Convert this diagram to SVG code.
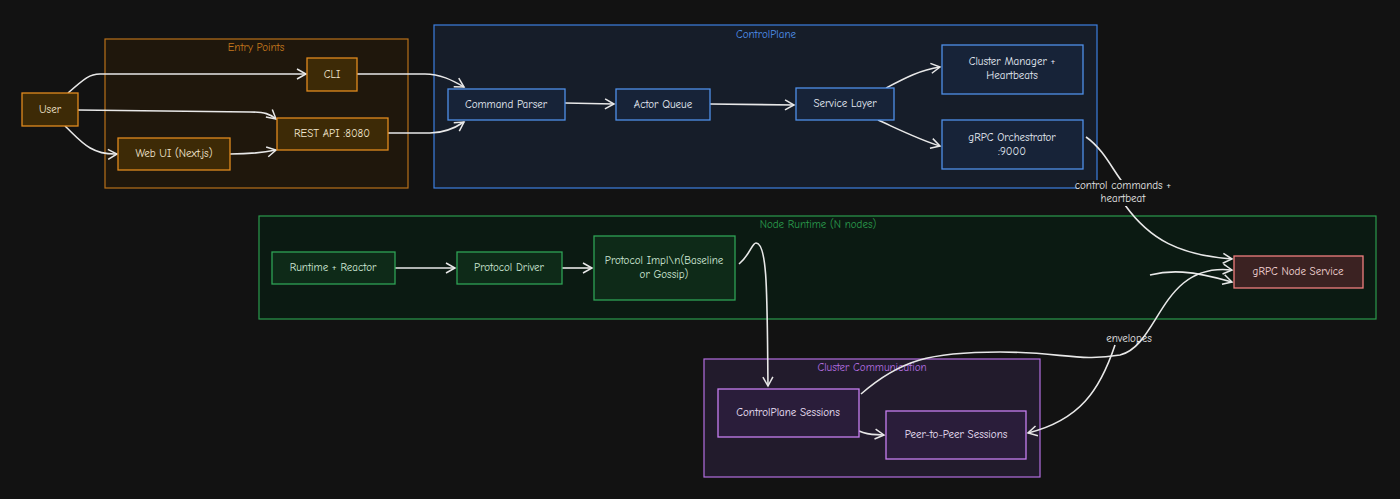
<svg xmlns="http://www.w3.org/2000/svg" width="1400" height="499" viewBox="0 0 1400 499">
<defs>
<marker id="ah" markerWidth="12" markerHeight="12" refX="10" refY="6" orient="auto" markerUnits="userSpaceOnUse"><path d="M1,1 L10,6 L1,11" fill="none" stroke="#e8e8e8" stroke-width="1.5"/></marker>
<style>
text{font-family:"Comic Neue","Liberation Sans",sans-serif;font-size:11px;text-anchor:middle;dominant-baseline:middle}
.c path{fill:none;stroke:#e8e8e8;stroke-width:1.6;marker-end:url(#ah)}
.o rect{fill:#3d2a06;stroke:#e08a1e;stroke-width:1.3}.o text{fill:#f3e6d0}
.b rect{fill:#172338;stroke:#4f8fe8;stroke-width:1.3}.b text{fill:#e6ecf5}
.g rect{fill:#0e2a18;stroke:#2fa255;stroke-width:1.3}.g text{fill:#cfe8d6}
.p rect{fill:#2a1d3a;stroke:#c77ef0;stroke-width:1.3}.p text{fill:#f0e2fb}
.r rect{fill:#3b2222;stroke:#f07e7e;stroke-width:1.3}.r text{fill:#f5d6d6}
.lbl{fill:#e6e6e6}
</style>
</defs>
<rect width="1400" height="499" fill="#121212"/>
<g id="group-entry"><rect x="105" y="39" width="303" height="149" fill="#1f170c" stroke="#b8701a" stroke-width="1.2"/><text x="256" y="48" fill="#c4771d">Entry Points</text></g>
<g id="group-control"><rect x="434" y="25" width="663" height="163" fill="#161d29" stroke="#3d7fe0" stroke-width="1.2"/><text x="766" y="35" fill="#4f8fe8">ControlPlane</text></g>
<g id="group-runtime"><rect x="259" y="216" width="1117" height="103" fill="#0b1a12" stroke="#2a9a4c" stroke-width="1.2"/><text x="818" y="225" fill="#2a9a4c">Node Runtime (N nodes)</text></g>
<g id="group-cluster"><rect x="704" y="359" width="336" height="118" fill="#221b2c" stroke="#b36ee0" stroke-width="1.2"/><text x="872" y="368" fill="#b36ee0">Cluster Communication</text></g>
<g class="c" id="connectors">
<path d="M68,93 C85,78 90,74 100,74 L306,74"/>
<path d="M78,110 L250,112 C265,112 270,114 276,119"/>
<path d="M65,126 C80,140 90,155 117,154"/>
<path d="M230,154 C250,154 262,153 276,150"/>
<path d="M357,74 L425,74 C440,74 452,80 464,87"/>
<path d="M388,133 L430,133 C445,133 455,128 464,122"/>
<path d="M565,103 L614,104"/>
<path d="M710,104 L794,105"/>
<path d="M886,88 C905,78 920,70 940,67"/>
<path d="M878,120 C900,130 920,140 940,146"/>
<path d="M1086,137 C1105,150 1115,175 1125,185 M1125,205 C1150,240 1180,255 1232,259"/>
<path d="M395,268 L455,268"/>
<path d="M562,268 L592,268"/>
<path d="M739,264 C750,255 752,243 756,243 C768,243 767,300 768,386"/>
<path d="M861,394 C900,360 930,352 1000,352 C1060,352 1080,362 1120,355 C1160,345 1160,262 1232,270"/>
<path d="M1150,275 C1170,270 1190,270 1232,282"/>
<path d="M1115,345 C1100,390 1080,420 1028,433"/>
<path d="M859,431 C870,436 875,434 884,435"/>
</g>
<rect x="1077" y="180" width="92" height="26" fill="#121212"/>
<text class="lbl" x="1123" y="186">control commands +</text>
<text class="lbl" x="1123" y="199">heartbeat</text>
<text class="lbl" x="1129" y="339">envelopes</text>
<g id="user" class="o"><rect x="22" y="93" width="56" height="33"/><text x="50" y="110">User</text></g>
<g id="cli" class="o"><rect x="307" y="58" width="50" height="33"/><text x="332" y="75">CLI</text></g>
<g id="rest" class="o"><rect x="277" y="118" width="111" height="32"/><text x="332" y="134">REST API :8080</text></g>
<g id="webui" class="o"><rect x="118" y="138" width="112" height="32"/><text x="174" y="154">Web UI (Next.js)</text></g>
<g id="parser" class="b"><rect x="448" y="89" width="117" height="31"/><text x="506" y="105">Command Parser</text></g>
<g id="actor" class="b"><rect x="616" y="89" width="94" height="31"/><text x="663" y="105">Actor Queue</text></g>
<g id="service" class="b"><rect x="796" y="88" width="98" height="32"/><text x="845" y="104">Service Layer</text></g>
<g id="cluster-mgr" class="b"><rect x="942" y="45" width="141" height="49"/><text x="1012" y="62">Cluster Manager +</text><text x="1012" y="76">Heartbeats</text></g>
<g id="grpc-orch" class="b"><rect x="942" y="120" width="141" height="49"/><text x="1012" y="138">gRPC Orchestrator</text><text x="1012" y="152">:9000</text></g>
<g id="runtime" class="g"><rect x="272" y="252" width="123" height="32"/><text x="333" y="268">Runtime + Reactor</text></g>
<g id="driver" class="g"><rect x="457" y="252" width="105" height="32"/><text x="509" y="268">Protocol Driver</text></g>
<g id="impl" class="g"><rect x="594" y="236" width="141" height="64"/><text x="664" y="261">Protocol Impl\n(Baseline</text><text x="664" y="275">or Gossip)</text></g>
<g id="grpc-node" class="r"><rect x="1234" y="256" width="129" height="32"/><text x="1298" y="272">gRPC Node Service</text></g>
<g id="cp-sessions" class="p"><rect x="718" y="389" width="141" height="48"/><text x="788" y="413">ControlPlane Sessions</text></g>
<g id="p2p" class="p"><rect x="886" y="411" width="140" height="48"/><text x="956" y="435">Peer-to-Peer Sessions</text></g>
</svg>
